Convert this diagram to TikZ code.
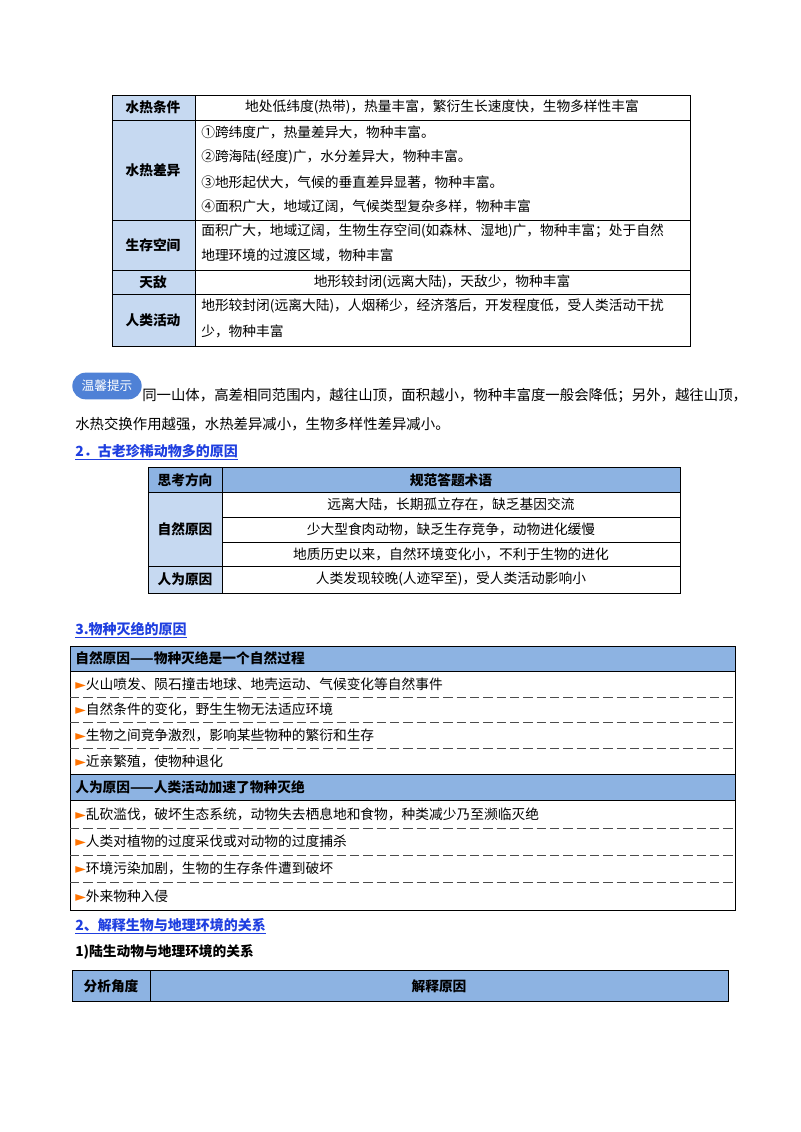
\documentclass[tikz,border=0pt]{standalone}
\usepackage{fontspec}
\setmainfont{Noto Sans CJK SC}
\newfontfamily\symfont{DejaVu Sans}
\newcommand{\tridot}{{\symfont\textcolor{orange!90!red}{►}}}
\begin{document}
\begin{tikzpicture}[x=0.75pt,y=-0.75pt,
  txt/.style={anchor=west,inner sep=0pt,font=\fontsize{10.3}{12}\selectfont},
  ptxt/.style={anchor=west,inner sep=0pt,font=\fontsize{10.8}{12}\selectfont},
  ctr/.style={inner sep=0pt,font=\fontsize{10.3}{12}\selectfont},
  hd/.style={inner sep=0pt,font=\fontsize{10.3}{12}\selectfont\bfseries},
  lab/.style={fill=lb,draw=black,line width=0.6pt},
  hdr/.style={fill=hb,draw=black,line width=0.6pt},
  cell/.style={draw=black,line width=0.6pt},
  sec/.style={anchor=west,inner sep=0pt,font=\fontsize{10.5}{12}\selectfont\bfseries,text=secblue},
  dsh/.style={dash pattern=on 7pt off 3pt,line width=0.5pt,draw=black!70}]
\definecolor{lb}{HTML}{C6D9F1}
\definecolor{hb}{HTML}{8DB3E2}
\definecolor{secblue}{HTML}{1F3FE0}
\definecolor{badge}{HTML}{4F81D6}
\useasboundingbox (0,0) rectangle (800,1132);
\fill[white] (0,0) rectangle (800,1132);
% table 1
\draw[lab] (112,95) rectangle (195,346);
\draw[cell] (195,95) rectangle (690,346);
\foreach \y in {120,220,270,294} \draw[line width=0.6pt] (112,\y) -- (690,\y);
\node[hd] (a1) at (153,107) {水热条件};
\node[ctr] (b1) at (442,107) {地处低纬度(热带)，热量丰富，繁衍生长速度快，生物多样性丰富};
\node[hd] (a2) at (153,170) {水热差异};
\node[txt] (b2) at (201,132) {①跨纬度广，热量差异大，物种丰富。};
\node[txt] (b3) at (201,157) {②跨海陆(经度)广，水分差异大，物种丰富。};
\node[txt] (b4) at (201,182) {③地形起伏大，气候的垂直差异显著，物种丰富。};
\node[txt] (b5) at (201,206) {④面积广大，地域辽阔，气候类型复杂多样，物种丰富};
\node[hd] (a3) at (153,245) {生存空间};
\node[txt] (b6) at (201,231) {面积广大，地域辽阔，生物生存空间(如森林、湿地)广，物种丰富；处于自然};
\node[txt] (b7) at (201,255) {地理环境的过渡区域，物种丰富};
\node[hd] (a4) at (153,282) {天敌};
\node[ctr] (b8) at (442,282) {地形较封闭(远离大陆)，天敌少，物种丰富};
\node[hd] (a5) at (153,320) {人类活动};
\node[txt] (b9) at (201,306) {地形较封闭(远离大陆)，人烟稀少，经济落后，开发程度低，受人类活动干扰};
\node[txt] (b10) at (201,331) {少，物种丰富};
% tip
\node[fill=badge,rounded corners=10pt,minimum width=52pt,minimum height=20pt,inner sep=0pt,text=white,font=\fontsize{9.5}{11}\selectfont] (tip) at (107,386) {温馨提示};
\node[ptxt] (t1) at (142,396) {同一山体，高差相同范围内，越往山顶，面积越小，物种丰富度一般会降低；另外，越往山顶，};
\node[ptxt] (t2) at (75,424) {水热交换作用越强，水热差异减小，生物多样性差异减小。};
\node[sec] (s1) at (75,452) {\underline{2．古老珍稀动物多的原因}};
% table 2
\draw[hdr] (148,467) rectangle (680,492);
\draw[lab] (148,492) rectangle (222,593);
\draw[cell] (222,492) rectangle (680,593);
\draw[line width=0.6pt] (222,467) -- (222,492);
\draw[line width=0.6pt] (222,517) -- (680,517) (222,542) -- (680,542) (148,566) -- (680,566);
\node[hd] (h1) at (185,480) {思考方向};
\node[hd] (h2) at (451,480) {规范答题术语};
\node[hd] (c1) at (185,529) {自然原因};
\node[hd] (c2) at (185,579) {人为原因};
\node[ctr] (d1) at (451,504) {远离大陆，长期孤立存在，缺乏基因交流};
\node[ctr] (d2) at (451,529) {少大型食肉动物，缺乏生存竞争，动物进化缓慢};
\node[ctr] (d3) at (451,554) {地质历史以来，自然环境变化小，不利于生物的进化};
\node[ctr] (d4) at (451,579) {人类发现较晚(人迹罕至)，受人类活动影响小};
\node[sec] (s2) at (75,630) {\underline{3.物种灭绝的原因}};
% table 3
\draw[hdr] (70,646) rectangle (735,671);
\draw[hdr] (70,774) rectangle (735,800);
\draw[cell] (70,646) rectangle (735,910);
\foreach \y in {697,722,748,828,855,882} \draw[dsh] (70,\y) -- (735,\y);
\node[txt,font=\fontsize{10.3}{12}\selectfont\bfseries] (e0) at (75,658) {自然原因——物种灭绝是一个自然过程};
\node[txt] (e1) at (75,684) {\tridot 火山喷发、陨石撞击地球、地壳运动、气候变化等自然事件};
\node[txt] (e2) at (75,709) {\tridot 自然条件的变化，野生生物无法适应环境};
\node[txt] (e3) at (75,735) {\tridot 生物之间竞争激烈，影响某些物种的繁衍和生存};
\node[txt] (e4) at (75,761) {\tridot 近亲繁殖，使物种退化};
\node[txt,font=\fontsize{10.3}{12}\selectfont\bfseries] (f0) at (75,787) {人为原因——人类活动加速了物种灭绝};
\node[txt] (f1) at (75,814) {\tridot 乱砍滥伐，破坏生态系统，动物失去栖息地和食物，种类减少乃至濒临灭绝};
\node[txt] (f2) at (75,841) {\tridot 人类对植物的过度采伐或对动物的过度捕杀};
\node[txt] (f3) at (75,868) {\tridot 环境污染加剧，生物的生存条件遭到破坏};
\node[txt] (f4) at (75,896) {\tridot 外来物种入侵};
\node[sec] (s3) at (75,926) {\underline{2、解释生物与地理环境的关系}};
\node[txt,font=\fontsize{10.3}{12}\selectfont\bfseries] (s4) at (75,952) {1)陆生动物与地理环境的关系};
% table 4
\draw[hdr] (72,970) rectangle (728,1001);
\draw[line width=0.6pt] (150,970) -- (150,1001);
\node[hd] (g1) at (111,986) {分析角度};
\node[hd] (g2) at (439,986) {解释原因};
\end{tikzpicture}
\end{document}
